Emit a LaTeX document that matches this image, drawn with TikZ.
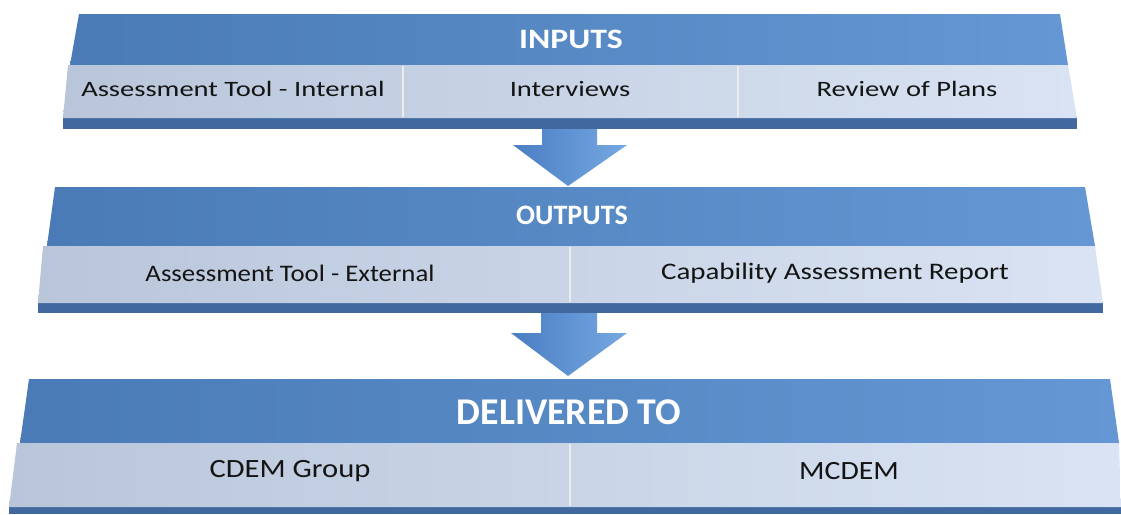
\documentclass[tikz,border=0pt]{standalone}
\usepackage{graphicx}
\usepackage{fontspec}
\setmainfont{Carlito}
\begin{document}
\begin{tikzpicture}[x=0.02cm,y=-0.02cm]
\definecolor{hdrL}{HTML}{4A7BB7}
\definecolor{hdrR}{HTML}{6497D3}
\definecolor{bandL}{HTML}{B9C6DA}
\definecolor{bandR}{HTML}{D9E3F3}
\definecolor{strip}{HTML}{41699F}
\definecolor{arrL}{HTML}{4A7EC2}
\definecolor{arrR}{HTML}{76A8E2}
\definecolor{txt}{HTML}{141414}
\tikzset{
  hdrtext/.style={text=white,font=\bfseries\fontsize{16}{18}\selectfont},
  bigtext/.style={text=white,font=\bfseries\fontsize{21.5}{24}\selectfont},
  lbltop/.style={text=txt,font=\fontsize{12.5}{15}\selectfont},
  lblmid/.style={text=txt,font=\fontsize{13.5}{16}\selectfont},
  lblbot/.style={text=txt,font=\fontsize{15}{18}\selectfont},
  divider/.style={draw=white!85!gray,line width=1.2pt},
}
\useasboundingbox (0,0) rectangle (1121,514);
% arrows
\shade[left color=arrL,right color=arrR] (542,118) -- (597,118) -- (597,145) -- (627,145) -- (568,186) -- (513,145) -- (542,145) -- cycle;
\shade[left color=arrL,right color=arrR] (541,303) -- (597,303) -- (597,333) -- (627,333) -- (568,376) -- (511,333) -- (541,333) -- cycle;
% block 1
\shade[left color=hdrL,right color=hdrR] (79,14) -- (1060,14) -- (1068,65) -- (70,65) -- cycle;
\fill[strip] (63,118) -- (1077,118) -- (1077,129) -- (63,129) -- cycle;
\shade[left color=bandL,right color=bandR] (68,65) -- (1068,65) -- (1077,118) -- (63,118) -- cycle;
\draw[divider] (403,66) -- (403,117);
\draw[divider] (738,66) -- (738,117);
\node[hdrtext] (inputs) at (571,39) {\scalebox{1.2}[1]{INPUTS}};
\node[lbltop] (a1) at (233,89) {\scalebox{1.3}[1]{Assessment Tool - Internal}};
\node[lbltop] (a2) at (570,89) {\scalebox{1.3}[1]{Interviews}};
\node[lbltop] (a3) at (907,89) {\scalebox{1.3}[1]{Review of Plans}};
% block 2
\shade[left color=hdrL,right color=hdrR] (55,187) -- (1085,187) -- (1095,246) -- (47,246) -- cycle;
\fill[strip] (38,303) -- (1103,303) -- (1103,313) -- (38,313) -- cycle;
\shade[left color=bandL,right color=bandR] (43,246) -- (1095,246) -- (1103,303) -- (38,303) -- cycle;
\draw[divider] (570,247) -- (570,302);
\node[hdrtext] (outputs) at (572,215) {OUTPUTS};
\node[lblmid] (b1) at (290,273) {\scalebox{1.13}[1]{Assessment Tool - External}};
\node[lblmid] (b2) at (835,273) {\scalebox{1.22}[1]{Capability Assessment Report}};
% block 3
\shade[left color=hdrL,right color=hdrR] (29,379) -- (1110,379) -- (1119,443) -- (20,443) -- cycle;
\fill[strip] (9,507) -- (1121,507) -- (1121,514) -- (9,514) -- cycle;
\shade[left color=bandL,right color=bandR] (17,443) -- (1119,443) -- (1121,507) -- (9,507) -- cycle;
\draw[divider] (570,444) -- (570,506);
\node[bigtext] (deliv) at (569,412) {DELIVERED TO};
\node[lblbot] (c1) at (290,471) {\scalebox{1.16}[1]{CDEM Group}};
\node[lblbot] (c2) at (849,471) {\scalebox{1.13}[1]{MCDEM}};
\end{tikzpicture}
\end{document}
